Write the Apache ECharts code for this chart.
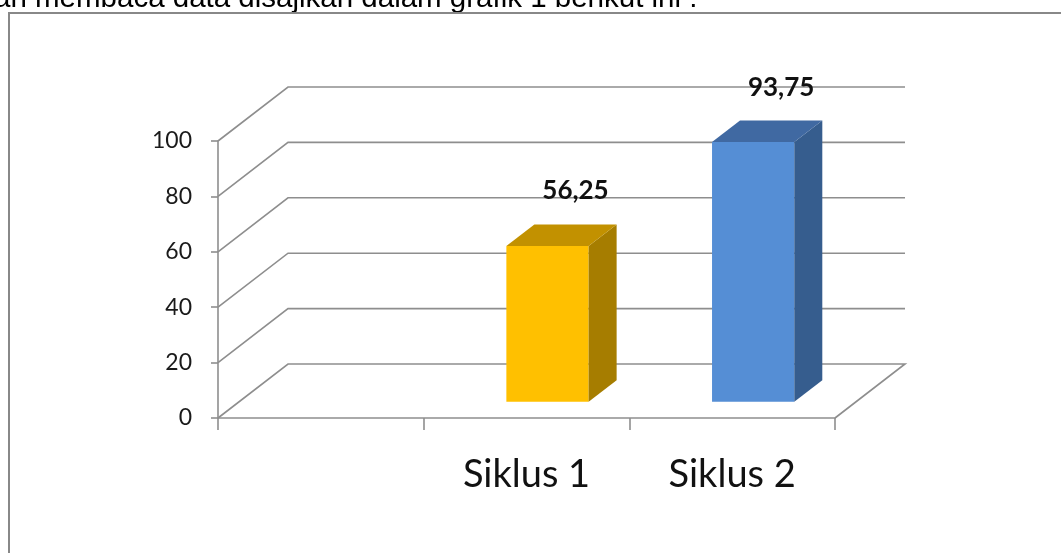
<!DOCTYPE html>
<html>
<head>
<meta charset="utf-8">
<script src="https://cdn.jsdelivr.net/npm/echarts@6/dist/echarts.min.js"></script>
<style>
  html, body { margin: 0; padding: 0; background: #fff; }
  #chart { width: 1061px; height: 553px; }
</style>
</head>
<body>
<div id="chart"></div>
<script>
// data
const categories = ['', 'Siklus 1', 'Siklus 2'];
const values = [null, 56.25, 93.75];
const yTicks = [0, 20, 40, 60, 80, 100];
const captionText = 'an membaca data disajikan dalam grafik 1 berikut ini :';

// 3d look: depth of the floor/walls in px
const DX = 70;
const DY = 54;
const lineColor = '#8e8e8e';
const faceColors = [
    null,
    { front: '#FFC000', side: '#A67D00', top: '#C29100' },
    { front: '#558ED5', side: '#365D8E', top: '#4069A2' }
];

const fmt = v => String(v).replace('.', ',');

const renderWalls = (params, api) => {
    const cs = params.coordSys;
    const v = api.value(1);
    const y = api.coord([0, v])[1];
    const pts = [
        [cs.x, y],
        [cs.x + DX, y - DY],
        [cs.x + cs.width + DX, y - DY]
    ];
    if (v === 0) {
        pts.push([cs.x + cs.width, y]); // floor right edge
    }
    return {
        type: 'polyline',
        shape: { points: pts },
        style: { stroke: lineColor, lineWidth: 1.6, fill: null },
        silent: true
    };
};

const renderBar = (params, api) => {
    const idx = api.value(0);
    const v = api.value(1);
    const base = api.coord([idx, 0]);
    const top = api.coord([idx, v]);
    const bw = api.size([1, 0])[0];
    const w = bw * 0.4;
    const ox = DX * 0.3, oy = DY * 0.3;
    const dx = DX * 0.4, dy = DY * 0.4;
    const x0 = base[0] - w / 2 + ox;
    const x1 = x0 + w;
    const yb = base[1] - oy;
    const yt = top[1] - oy;
    const c = faceColors[idx];
    return {
        type: 'group',
        children: [
            {
                type: 'rect',
                shape: { x: x0, y: yt, width: w, height: yb - yt },
                style: { fill: c.front }
            },
            {
                type: 'polygon',
                shape: { points: [[x1, yb], [x1, yt], [x1 + dx, yt - dy], [x1 + dx, yb - dy]] },
                style: { fill: c.side }
            },
            {
                type: 'polygon',
                shape: { points: [[x0, yt], [x1, yt], [x1 + dx, yt - dy], [x0 + dx, yt - dy]] },
                style: { fill: c.top }
            },
            {
                type: 'text',
                style: {
                    text: fmt(v),
                    x: base[0] + 49,
                    y: yt - 55,
                    align: 'center',
                    verticalAlign: 'middle',
                    font: 'bold 26px Lato',
                    fill: '#111'
                }
            }
        ]
    };
};

const chart = echarts.init(document.getElementById('chart'));
chart.setOption({
    animation: false,
    backgroundColor: '#fff',
    graphic: [
        {
            type: 'text',
            style: {
                text: captionText,
                x: -6,
                y: 14,
                verticalAlign: 'bottom',
                font: '29.5px "Liberation Sans"',
                fill: '#000'
            },
            silent: true
        },
        {
            type: 'rect',
            shape: { x: 9, y: 13, width: 1100, height: 600 },
            style: { fill: null, stroke: '#888', lineWidth: 2 },
            silent: true
        }
    ],
    grid: {
        left: 218,
        top: 141,
        width: 617,
        height: 277,
        outerBoundsMode: 'none'
    },
    xAxis: {
        type: 'category',
        data: categories,
        axisLine: { lineStyle: { color: lineColor, width: 1.6 } },
        axisTick: { show: true, length: 12, interval: 0, lineStyle: { color: lineColor, width: 1.6 } },
        axisLabel: {
            interval: 0,
            margin: 38,
            color: '#111',
            fontFamily: 'Lato',
            fontSize: 38
        },
        splitLine: { show: false }
    },
    yAxis: {
        type: 'value',
        min: 0,
        max: 100,
        interval: 20,
        axisLine: { show: true, lineStyle: { color: lineColor, width: 1.6 } },
        axisTick: { show: true, length: 7, lineStyle: { color: lineColor, width: 1.6 } },
        axisLabel: {
            margin: 26,
            color: '#1a1a1a',
            fontFamily: 'Lato',
            fontSize: 23
        },
        splitLine: { show: false }
    },
    series: [
        {
            type: 'custom',
            name: 'walls',
            renderItem: renderWalls,
            data: yTicks.map(v => [0, v]),
            encode: { x: 0, y: 1 },
            clip: false,
            silent: true,
            z: 1
        },
        {
            type: 'custom',
            name: 'bars',
            renderItem: renderBar,
            data: values.map((v, i) => [i, v]).filter(d => d[1] !== null),
            encode: { x: 0, y: 1 },
            clip: false,
            z: 3
        }
    ]
});
</script>
</body>
</html>
